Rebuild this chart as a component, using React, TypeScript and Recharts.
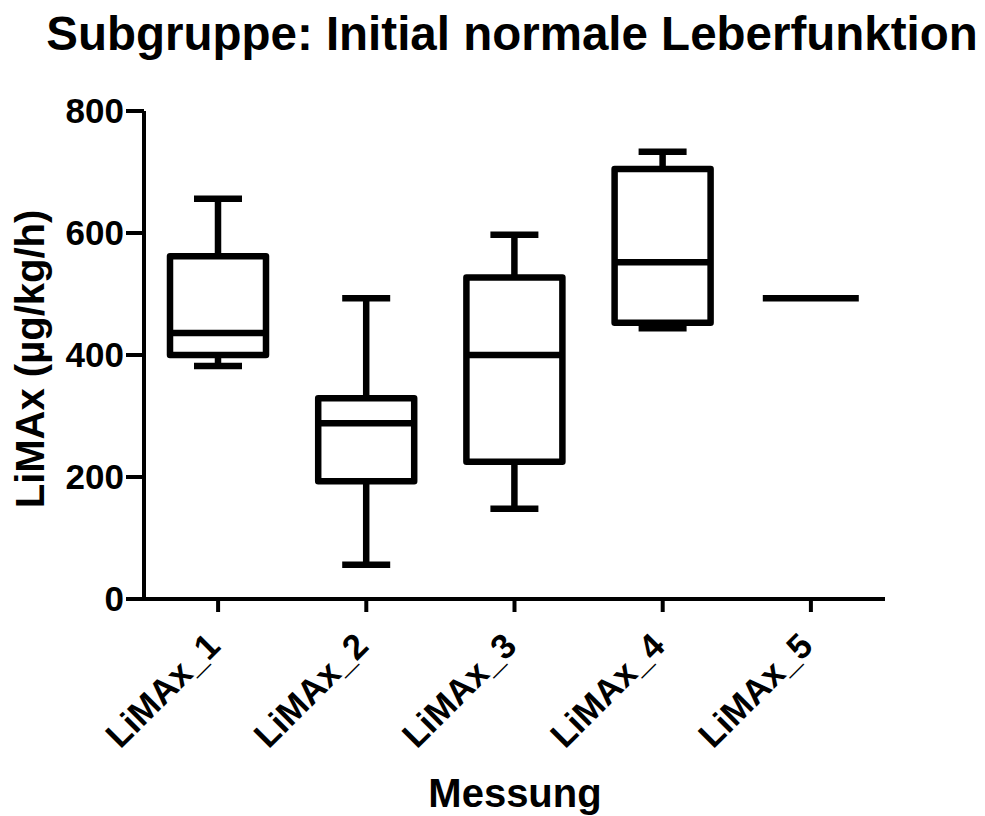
import React from 'react';
import { ComposedChart, Bar, XAxis, YAxis } from 'recharts';

// box plot summary per measurement (µg/kg/h)
const categories = ['LiMAx_1', 'LiMAx_2', 'LiMAx_3', 'LiMAx_4', 'LiMAx_5'];
const minValues = [382, 56, 148, 444, 493];
const q1Values = [400, 193, 225, 453, 493];
const medianValues = [436, 288, 400, 552, 493];
const q3Values = [562, 329, 527, 705, 493];
const maxValues = [656, 493, 597, 733, 493];
const yTicks = [0, 200, 400, 600, 800];

const data = categories.map((name, i) => ({
  name,
  range: [minValues[i], maxValues[i]],
  min: minValues[i],
  q1: q1Values[i],
  median: medianValues[i],
  q3: q3Values[i],
  max: maxValues[i],
}));

const FONT = '"Liberation Sans", Arial, sans-serif';
const SW = 6.5;

const BoxShape = (props: any) => {
  const { x, y, width, height, payload } = props;
  const { min, q1, median, q3, max } = payload;
  const cx = x + width / 2;
  const cap = width / 2;
  if (max === min) {
    return <line x1={x} x2={x + width} y1={y} y2={y} stroke="#000" strokeWidth={SW} />;
  }
  const k = height / (max - min);
  const py = (v: number) => y + (max - v) * k;
  return (
    <g stroke="#000" strokeWidth={SW} fill="none" strokeLinejoin="round">
      <line x1={cx} x2={cx} y1={py(max)} y2={py(q3)} />
      <line x1={cx} x2={cx} y1={py(q1)} y2={py(min)} />
      <line x1={cx - cap / 2} x2={cx + cap / 2} y1={py(max)} y2={py(max)} />
      <line x1={cx - cap / 2} x2={cx + cap / 2} y1={py(min)} y2={py(min)} />
      <rect x={x} y={py(q3)} width={width} height={py(q1) - py(q3)} fill="#fff" />
      <line x1={x} x2={x + width} y1={py(median)} y2={py(median)} />
    </g>
  );
};

const XTick = (props: any) => {
  const { x, y, payload } = props;
  return (
    <text
      x={x + 4}
      y={y + 34}
      transform={`rotate(-45 ${x + 4} ${y + 34})`}
      textAnchor="end"
      fontFamily={FONT}
      fontWeight="bold"
      fontSize={35}
      fill="#000"
    >
      {payload.value}
    </text>
  );
};

const App: React.FC = () => {
  return (
    <div style={{ position: 'relative', width: 969, height: 808 }}>
      <ComposedChart
        width={969}
        height={808}
        data={data}
        margin={{ top: 103, right: 92, bottom: 9, left: 0 }}
      >
        <XAxis
          dataKey="name"
          stroke="#000"
          axisLine={{ stroke: '#000', strokeWidth: 4 }}
          tickLine={{ stroke: '#000', strokeWidth: 4 }}
          tickSize={13}
          height={208}
          interval={0}
          tick={<XTick />}
        />
        <YAxis
          domain={[0, 800]}
          ticks={yTicks}
          width={136}
          stroke="#000"
          axisLine={{ stroke: '#000', strokeWidth: 4 }}
          tickLine={{ stroke: '#000', strokeWidth: 4 }}
          tickSize={18}
          tick={{ fill: '#000', fontSize: 35, fontWeight: 'bold', fontFamily: FONT }}
        />
        <Bar dataKey="range" barSize={96} shape={<BoxShape />} isAnimationActive={false} />
      </ComposedChart>
      <svg
        width={969}
        height={808}
        style={{ position: 'absolute', left: 0, top: 0, pointerEvents: 'none' }}
      >
        <text x={504} y={42} textAnchor="middle" fontFamily={FONT} fontWeight="bold" fontSize={47.5}>
          Subgruppe: Initial normale Leberfunktion
        </text>
        <text
          x={36}
          y={351}
          transform="rotate(-90 36 351)"
          textAnchor="middle"
          fontFamily={FONT}
          fontWeight="bold"
          fontSize={40}
        >
          LiMAx (µg/kg/h)
        </text>
        <text x={507} y={799} textAnchor="middle" fontFamily={FONT} fontWeight="bold" fontSize={40}>
          Messung
        </text>
      </svg>
    </div>
  );
};

export default App;
